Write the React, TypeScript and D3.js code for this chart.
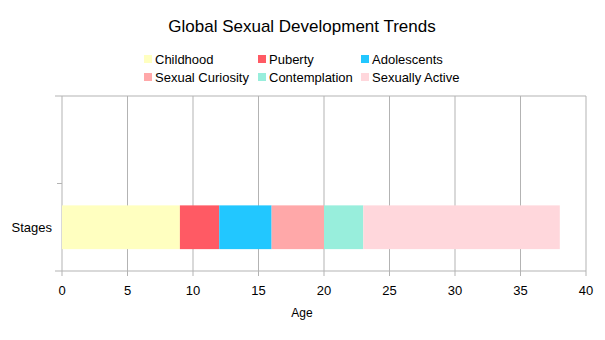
import React, { useEffect } from "react";
import * as d3 from "d3";

const stages = ["Childhood", "Puberty", "Adolescents", "Sexual Curiosity", "Contemplation", "Sexually Active"];
const durations = [9, 3, 4, 4, 3, 15];
const colors = ["#ffffc0", "#ff5a64", "#22c7ff", "#ffa8a9", "#98eedc", "#ffd7dc"];
const categories = ["", "Stages"];
const xTicks = [0, 5, 10, 15, 20, 25, 30, 35, 40];

const W = 605, H = 340;
const FONT = "'Liberation Sans', Arial, sans-serif";

export default function App() {
  useEffect(() => {
    document.body.style.margin = "0";
  }, []);
  const x = d3.scaleLinear().domain([0, 40]).range([62, 586]);
  const y = d3.scaleBand().domain(categories).range([96, 271]);
  const stack = d3.cumsum(durations);
  const starts = durations.map((d, i) => stack[i] - d);
  const band = y.bandwidth();
  const barH = band * 0.5;
  const yc = (y("Stages") as number) + band / 2;
  const grid = "#b3b3b3";
  const bounds = [y.range()[0], (y("Stages") as number), y.range()[1]];
  const legendCols = [144, 258, 361];
  const legendRows = [59, 77];
  return (
    <svg width={W} height={H} style={{ display: "block", fontFamily: FONT }}>
      <rect width={W} height={H} fill="#fff" />
      <text x={302} y={32} textAnchor="middle" fontSize={17} fill="#000">Global Sexual Development Trends</text>
      {stages.map((s, i) => {
        const cx = legendCols[i % 3];
        const cy = legendRows[Math.floor(i / 3)];
        return (
          <g key={s}>
            <rect x={cx} y={cy - 4} width={8} height={8} fill={colors[i]} />
            <text x={cx + 11} y={cy + 4.5} fontSize={13} fill="#000">{s}</text>
          </g>
        );
      })}
      {xTicks.map((t) => (
        <line key={t} x1={x(t)} x2={x(t)} y1={96} y2={276} stroke={grid} strokeWidth={1} />
      ))}
      {bounds.map((b, i) => (
        <line key={i} x1={i === 0 || i === 2 ? 55 : 57} x2={i === 1 ? 62 : 586} y1={b} y2={b} stroke={grid} strokeWidth={1} />
      ))}
      {durations.map((d, i) => (
        <rect key={i} x={x(starts[i])} y={yc - barH / 2} width={x(starts[i] + d) - x(starts[i])} height={barH} fill={colors[i]} />
      ))}
      {xTicks.map((t) => (
        <text key={t} x={x(t)} y={295} textAnchor="middle" fontSize={13} fill="#000">{t}</text>
      ))}
      <text x={52} y={yc + 4.5} textAnchor="end" fontSize={13} fill="#000">Stages</text>
      <text x={302} y={317} textAnchor="middle" fontSize={12} fill="#000">Age</text>
    </svg>
  );
}
